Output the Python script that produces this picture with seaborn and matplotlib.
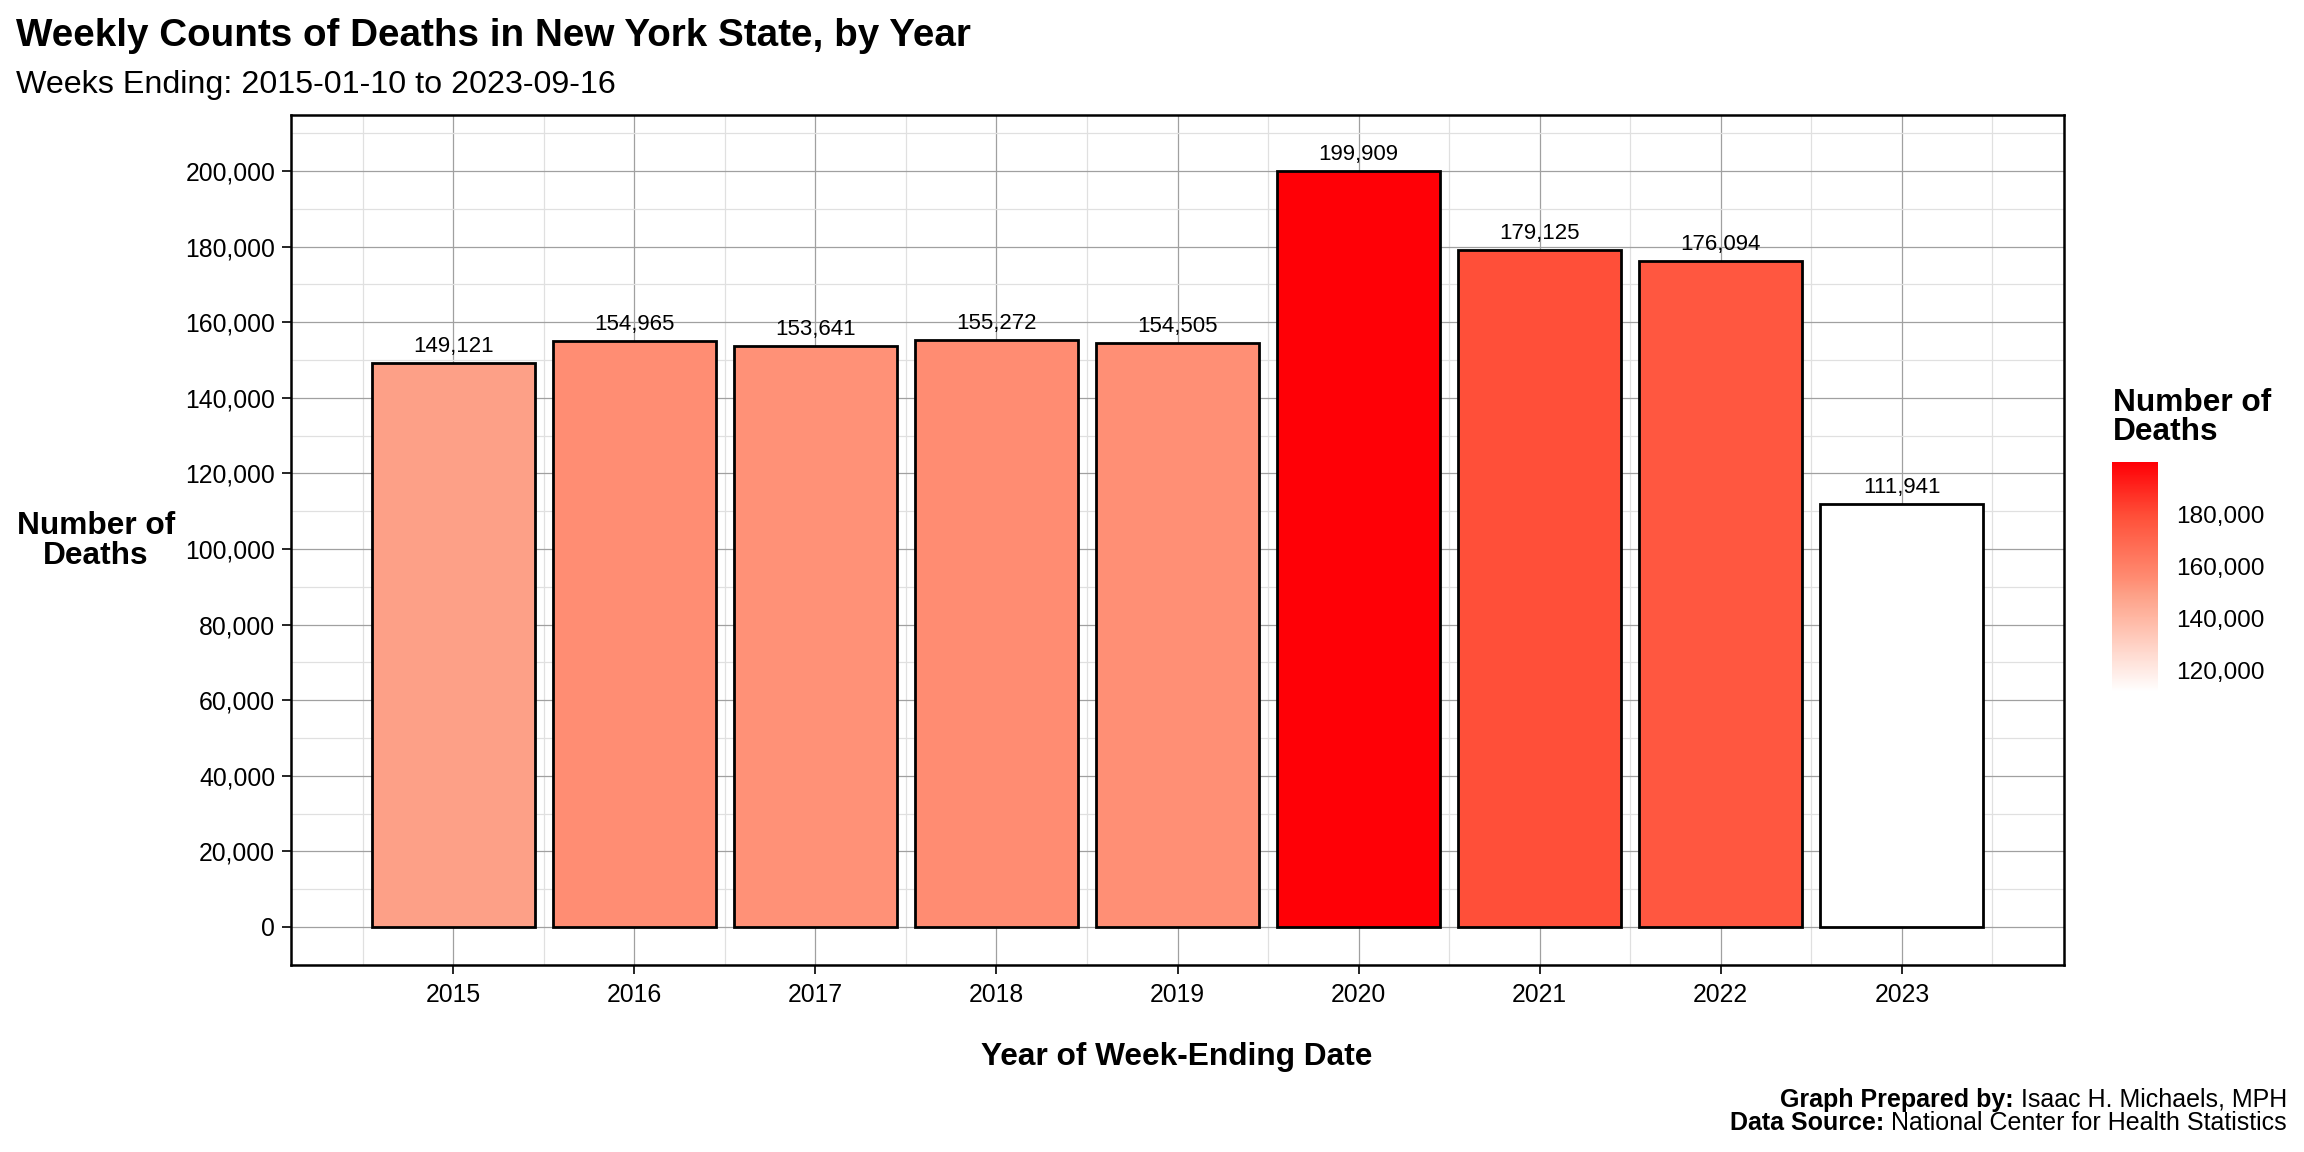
import numpy as np
import pandas as pd
import matplotlib
matplotlib.use('Agg')
import matplotlib.pyplot as plt
from matplotlib.colors import LinearSegmentedColormap, Normalize
from matplotlib.cm import ScalarMappable
from matplotlib.ticker import FuncFormatter, FixedLocator
import seaborn as sns

# data
years = [2015, 2016, 2017, 2018, 2019, 2020, 2021, 2022, 2023]
deaths = [149121, 154965, 153641, 155272, 154505, 199909, 179125, 176094, 111941]
y_ticks = [0, 20000, 40000, 60000, 80000, 100000, 120000, 140000, 160000, 180000, 200000]
cbar_ticks = [120000, 140000, 160000, 180000]

title = "Weekly Counts of Deaths in New York State, by Year"
subtitle = "Weeks Ending: 2015-01-10 to 2023-09-16"
x_title = "Year of Week-Ending Date"
y_title = "Number of\nDeaths"
legend_title = "Number of\nDeaths"
captions = [("Graph Prepared by:", "Isaac H. Michaels, MPH"),
            ("Data Source:", "National Center for Health Statistics")]

# white -> red fill gradient, colour stops
grad_stops = [(0.0, (255, 255, 255)), (0.32, (255, 183, 163)), (0.423, (253, 160, 135)),
              (0.489, (255, 141, 115)), (0.763, (255, 80, 57)), (1.0, (255, 0, 6))]
cmap = LinearSegmentedColormap.from_list(
    'deaths', [(p, tuple(c / 255 for c in rgb)) for p, rgb in grad_stops])
norm = Normalize(vmin=min(deaths), vmax=max(deaths))

sns.set_theme(style='white')
plt.rcParams['font.family'] = ['Liberation Sans', 'DejaVu Sans']
plt.rcParams['text.color'] = 'black'
plt.rcParams['axes.labelcolor'] = 'black'

W, H = 2304, 1152
fig = plt.figure(figsize=(11.52, 5.76), dpi=200)
fig.patch.set_facecolor('white')
ax = fig.add_axes([291 / W, 1 - 965 / H, (2064 - 291) / W, (965 - 115) / H])

df = pd.DataFrame({'year': years, 'deaths': deaths})
palette = {y: cmap(norm(d)) for y, d in zip(years, deaths)}

sns.barplot(data=df, x='year', y='deaths', hue='year', palette=palette,
            native_scale=True, width=0.9, dodge=False, legend=False,
            errorbar=None, saturation=1, edgecolor='black', linewidth=1.0, ax=ax)

for yr, d in zip(years, deaths):
    ax.annotate(f"{d:,}", (yr, d), xytext=(0, 4), textcoords='offset points',
                ha='center', va='baseline', fontsize=8, color='black')

ax.set_xlim(2014.105, 2023.895)
ax.set_ylim(-10053, 214815)
ax.set_xticks(years)
ax.set_xticklabels([str(y) for y in years])
ax.set_yticks(y_ticks)
ax.yaxis.set_major_formatter(FuncFormatter(lambda v, p: f"{int(v):,}"))
ax.xaxis.set_minor_locator(FixedLocator([y - 0.5 for y in years] + [years[-1] + 0.5]))
ax.yaxis.set_minor_locator(FixedLocator([v - 10000 for v in y_ticks] + [y_ticks[-1] + 10000]))

ax.set_axisbelow(True)
ax.grid(which='major', color='#a0a0a0', linewidth=0.45)
ax.grid(which='minor', color='#e0e0e0', linewidth=0.45)
ax.tick_params(which='major', direction='out', length=3.2, width=0.6, color='black',
               labelsize=8.9, labelcolor='black', pad=2.5)
ax.tick_params(axis='x', which='major', pad=3.2)
ax.tick_params(which='minor', length=0)
ax.tick_params(bottom=True, left=True)
for s in ax.spines.values():
    s.set_visible(True)
    s.set_color('black')
    s.set_linewidth(0.9)
ax.set_xlabel('')
ax.set_ylabel('')

# colour bar legend
cax = fig.add_axes([2112 / W, 1 - 692 / H, 46 / W, 230 / H])
cb = fig.colorbar(ScalarMappable(norm=norm, cmap=cmap), cax=cax)
cb.outline.set_visible(False)
cb.set_ticks(cbar_ticks)
cb.set_ticklabels([f"{v:,}" for v in cbar_ticks])
cax.minorticks_off()
cax.tick_params(left=True, right=True, labelleft=False, labelright=True,
                direction='in', color='white', length=3.6, width=0.6,
                labelsize=8.8, labelcolor='black', pad=6.5)
fig.text(2113 / W, 1 - 388 / H, legend_title, fontsize=11.4, fontweight='bold',
         ha='left', va='top', linespacing=0.95)

# titles
fig.text(16 / W, 1 - 46 / H, title, fontsize=13.9, fontweight='bold', ha='left', va='baseline')
fig.text(16 / W, 1 - 93 / H, subtitle, fontsize=11.6, ha='left', va='baseline')
fig.text(1177 / W, 1 - 1065 / H, x_title, fontsize=11.4, fontweight='bold', ha='center', va='baseline')
fig.text(96 / W, 1 - 541 / H, y_title, fontsize=11.4, fontweight='bold', ha='center', va='center',
         multialignment='center', linespacing=1.0)

# caption: bold label followed by regular text, right aligned
fig.canvas.draw()
renderer = fig.canvas.get_renderer()
for baseline, (bold_part, plain_part) in zip([1107, 1130], captions):
    t_plain = fig.text(2287 / W, 1 - baseline / H, plain_part, fontsize=9,
                       ha='right', va='baseline')
    bb = t_plain.get_window_extent(renderer)
    fig.text((bb.x0 - 7) / W, 1 - baseline / H, bold_part, fontsize=9, fontweight='bold',
             ha='right', va='baseline')

fig.savefig('out.png', dpi=200)
